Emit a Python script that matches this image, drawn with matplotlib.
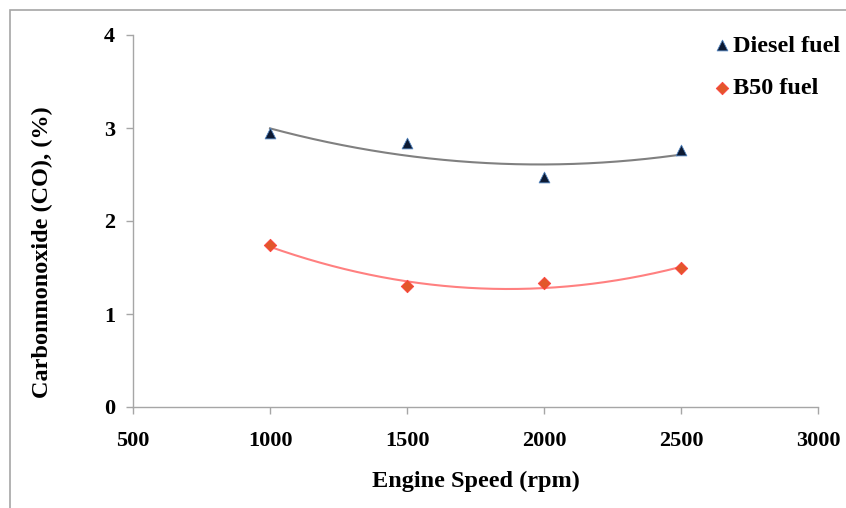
import matplotlib
matplotlib.use("Agg")
import matplotlib.pyplot as plt
import numpy as np
from matplotlib.patches import Rectangle

# engine speed (rpm) and CO (%)
speed = [1000, 1500, 2000, 2500]
diesel_co = [2.95, 2.84, 2.47, 2.76]
b50_co = [1.74, 1.30, 1.33, 1.49]

x_ticks = [500, 1000, 1500, 2000, 2500, 3000]
y_ticks = [0, 1, 2, 3, 4]

plt.rcParams["font.family"] = ["Liberation Serif", "DejaVu Serif"]
plt.rcParams["font.weight"] = "bold"

fig = plt.figure(figsize=(8.46, 5.08), dpi=100)
# outer chart border (cropped at right/bottom in the original)
fig.patches.append(Rectangle((10 / 846, -0.1), 1.2, 1.1 - 10 / 508,
                             transform=fig.transFigure, fill=False,
                             edgecolor="#a6a6a6", linewidth=1.2))

ax = fig.add_axes([133 / 846, 1 - 407 / 508, (818 - 133) / 846, (407 - 35) / 508])

# second-order trendlines like the spreadsheet version
xs = np.linspace(1000, 2500, 200)
for vals, col in [(diesel_co, "#808080"), (b50_co, "#ff8080")]:
    coef = np.polyfit(speed, vals, 2)
    ax.plot(xs, np.polyval(coef, xs), color=col, linewidth=1.5, zorder=2)

ax.scatter(speed, diesel_co, marker="^", s=60, color="#0d1a33",
           edgecolor="#4f81bd", linewidth=0.6, zorder=3, label="Diesel fuel")
ax.scatter(speed, b50_co, marker="D", s=40, color="#e2572b",
           edgecolor="#ff4040", linewidth=0.6, zorder=3, label="B50 fuel")

ax.set_xlim(500, 3000)
ax.set_ylim(0, 4)
ax.set_xticks(x_ticks)
ax.set_yticks(y_ticks)
ax.tick_params(axis="both", colors="#a6a6a6", labelcolor="black",
               labelsize=16, length=5, width=1)
ax.tick_params(axis="x", pad=12)
ax.tick_params(axis="y", pad=8)
for s in ("top", "right"):
    ax.spines[s].set_visible(False)
for s in ("left", "bottom"):
    ax.spines[s].set_color("#a6a6a6")
    ax.spines[s].set_linewidth(1)

ax.set_xlabel("Engine Speed (rpm)", fontsize=17.5, fontweight="bold")
ax.set_ylabel("Carbonmonoxide (CO), (%)", fontsize=17.5, fontweight="bold")
ax.xaxis.set_label_coords(0.5, (407 - 471) / 372)
ax.yaxis.set_label_coords((53 - 133) / 685, (407 - 252) / 372)

leg = ax.legend(loc="upper left", bbox_to_anchor=(699 / 846, 1 - 25 / 508),
                bbox_transform=fig.transFigure, frameon=False, fontsize=17.5,
                handletextpad=-0.1, labelspacing=0.85, handlelength=1.1,
                borderaxespad=0)
for t in leg.get_texts():
    t.set_fontweight("bold")

fig.savefig("out.png", dpi=100)
